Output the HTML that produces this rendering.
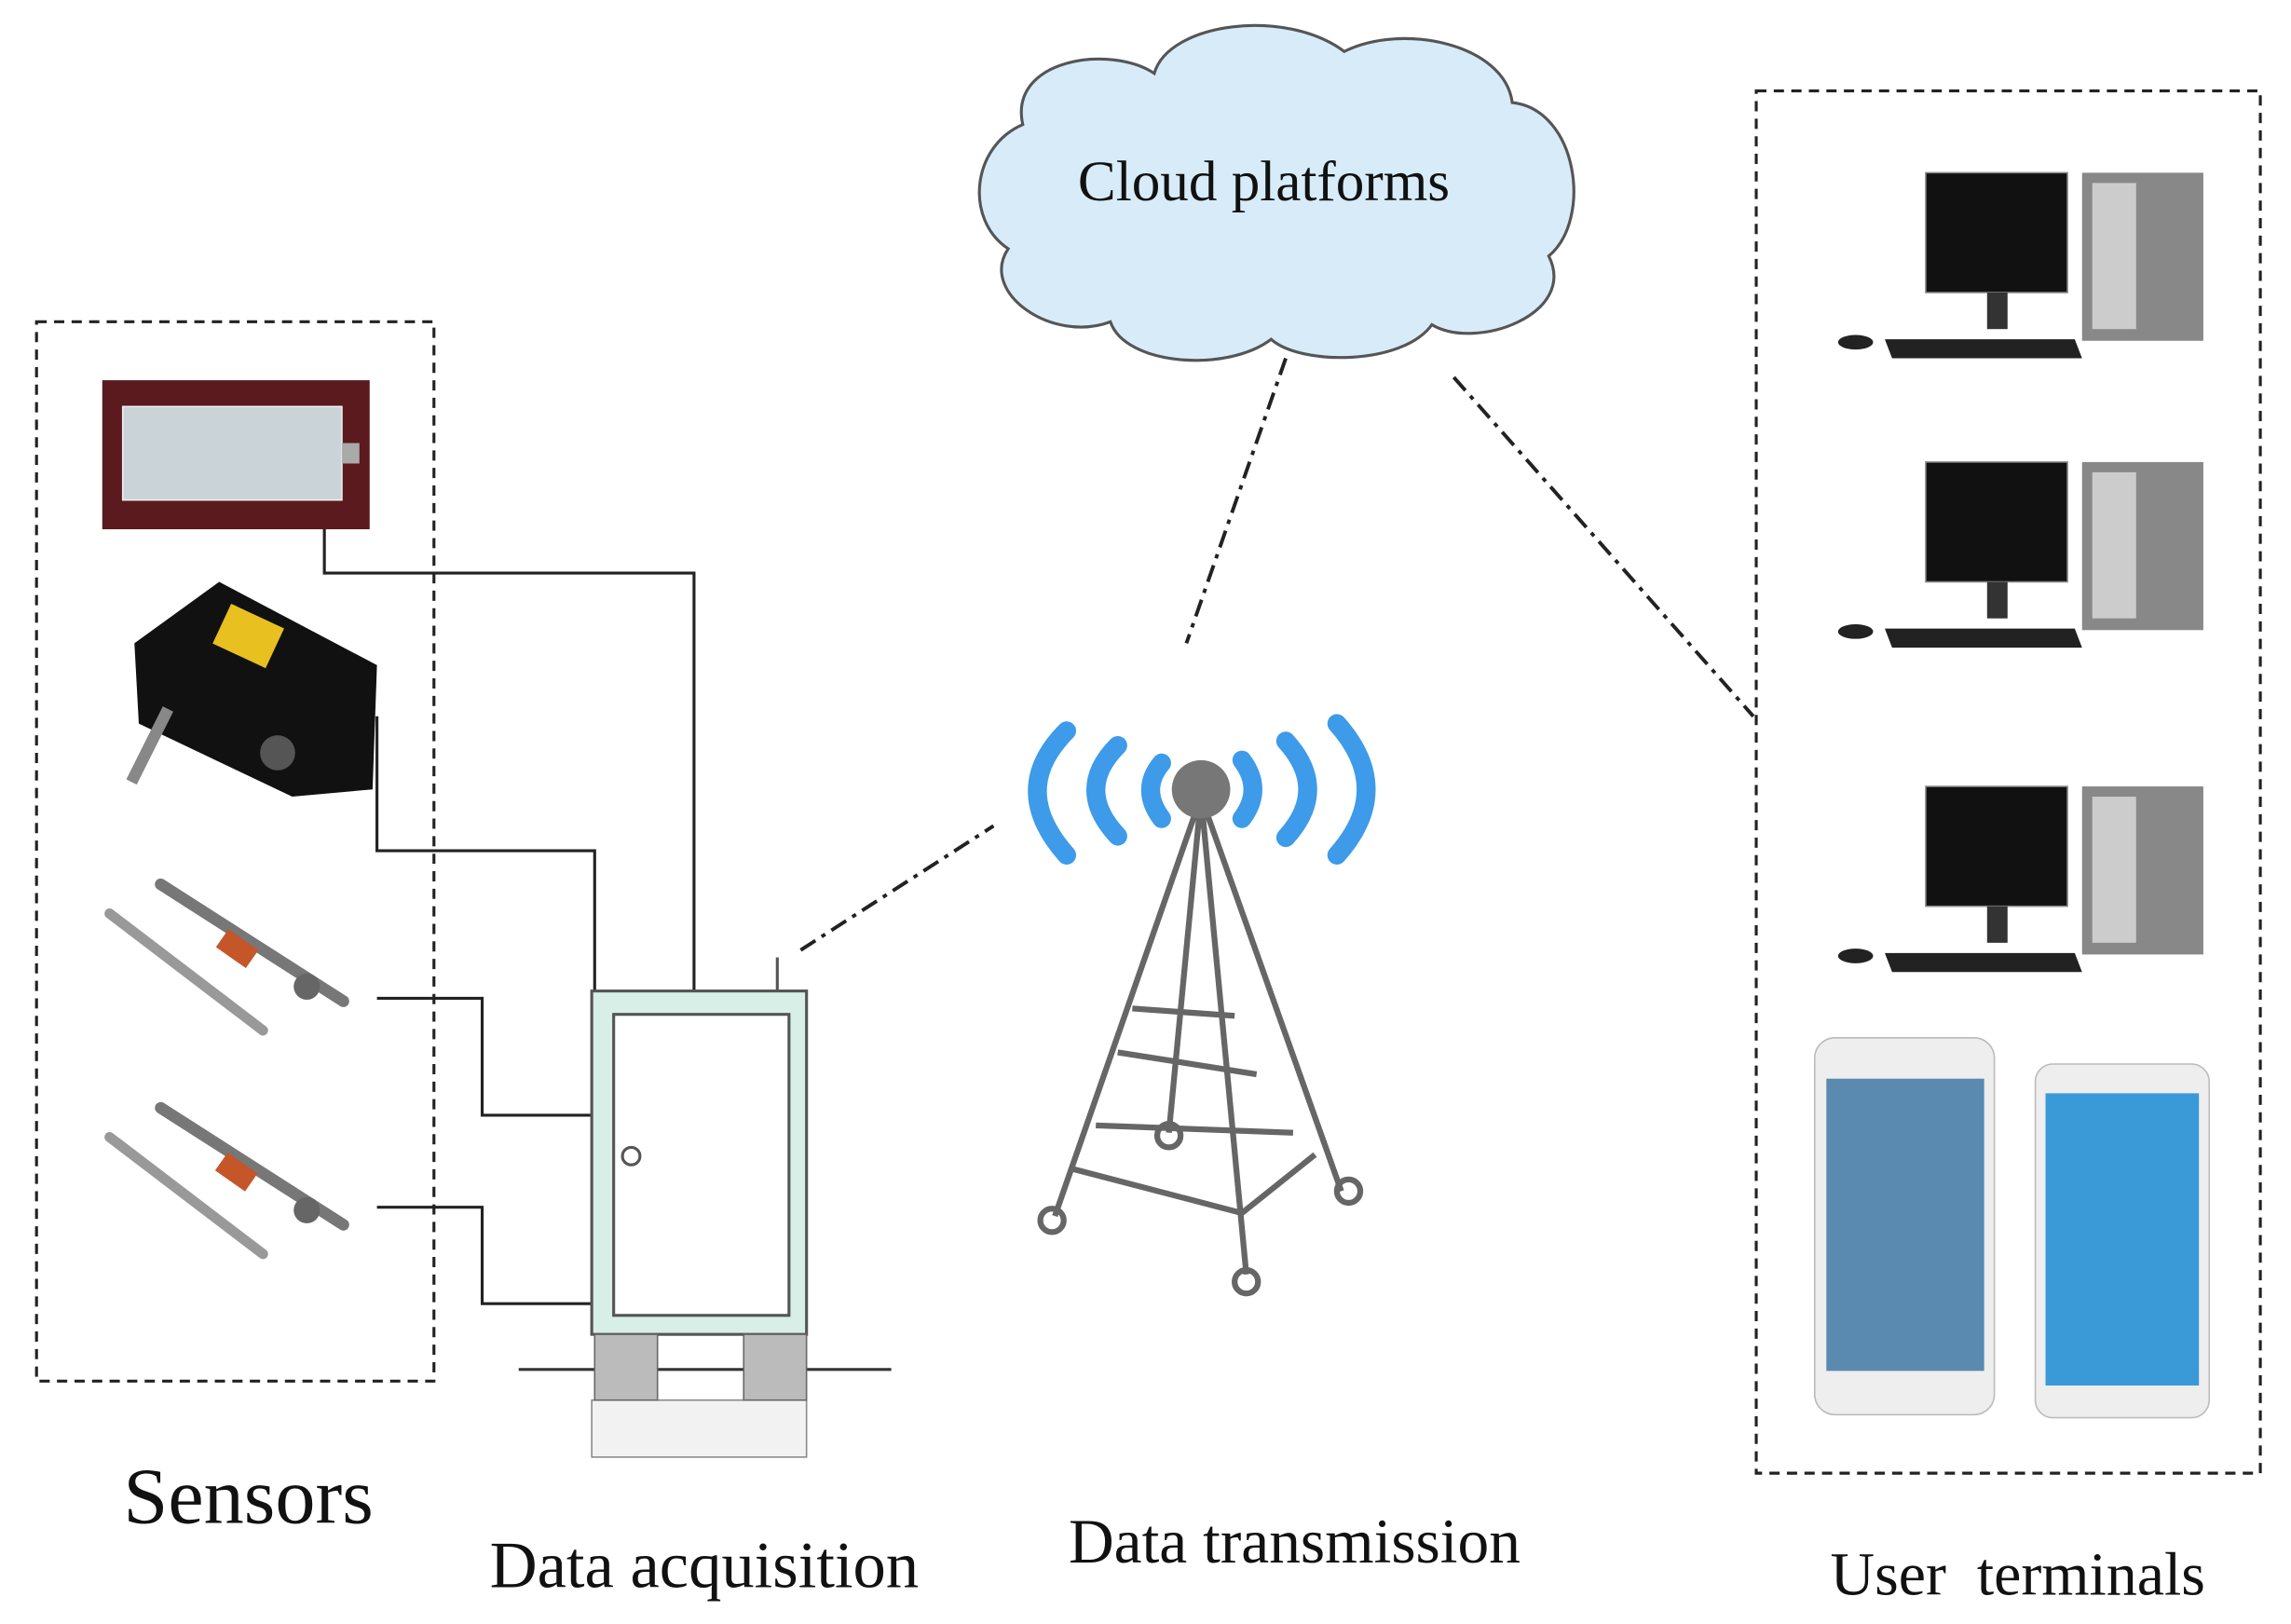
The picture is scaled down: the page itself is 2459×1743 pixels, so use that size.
<!DOCTYPE html>
<html><head><meta charset="utf-8"><style>html,body{margin:0;padding:0;background:#fff}svg{display:block}</style></head>
<body>
<svg width="2459" height="1743" viewBox="0 0 1568 1111" xmlns="http://www.w3.org/2000/svg" font-family="Liberation Serif, serif">
<rect width="1568" height="1111" fill="#fff"/>
<rect x="25" y="220" width="272" height="725" fill="none" stroke="#222" stroke-width="2" stroke-dasharray="7,5"/>
<rect x="1202" y="62" width="345" height="946" fill="none" stroke="#222" stroke-width="2" stroke-dasharray="7,5"/>
<path d="M700,85 C690,40 760,30 790,50 C800,15 880,5 920,35 C960,15 1030,30 1035,70 C1080,75 1090,150 1060,175 C1080,215 1010,240 980,222 C960,250 890,250 870,232 C840,255 770,250 760,220 C720,235 670,200 690,170 C660,150 665,100 700,85 Z" fill="#d7ecf8" stroke="#555" stroke-width="2"/>
<text x="865" y="137" font-size="39" text-anchor="middle" fill="#111">Cloud platforms</text>
<g stroke="#222" stroke-width="2" fill="none">
<polyline points="222,362 222,392 475,392 475,678"/>
<polyline points="258,490 258,582 407,582 407,678"/>
<polyline points="258,683 330,683 330,763 405,763"/>
<polyline points="258,826 330,826 330,892 405,892"/>
</g>
<g stroke="#222" stroke-width="2.5" fill="none" stroke-dasharray="12,5,3,5">
<line x1="548" y1="650" x2="680" y2="565"/>
<line x1="880" y1="245" x2="812" y2="440"/>
<line x1="995" y1="258" x2="1200" y2="490"/>
</g>
<rect x="70" y="260" width="183" height="102" fill="#5a1a1e"/>
<rect x="84" y="278" width="150" height="64" fill="#c9d3d8" stroke="#eee"/>
<rect x="234" y="303" width="12" height="14" fill="#aaa"/>
<path d="M92,440 L150,398 L258,455 L255,540 L200,545 L95,495 Z" fill="#111"/>
<rect x="150" y="420" width="40" height="30" fill="#e8c020" transform="rotate(25 170 435)"/>
<line x1="115" y1="485" x2="90" y2="535" stroke="#888" stroke-width="8"/>
<circle cx="190" cy="515" r="12" fill="#555"/>
<g stroke-linecap="round">
<line x1="75" y1="625" x2="180" y2="705" stroke="#999" stroke-width="7"/>
<line x1="110" y1="605" x2="235" y2="685" stroke="#777" stroke-width="8"/>
<rect x="150" y="640" width="25" height="15" fill="#c4562a" transform="rotate(35 160 648)"/>
<circle cx="210" cy="675" r="9" fill="#666"/>
<line x1="75" y1="778" x2="180" y2="858" stroke="#999" stroke-width="7"/>
<line x1="110" y1="758" x2="235" y2="838" stroke="#777" stroke-width="8"/>
<rect x="150" y="793" width="25" height="15" fill="#c4562a" transform="rotate(35 160 800)"/>
<circle cx="210" cy="828" r="9" fill="#666"/>
</g>
<line x1="532" y1="655" x2="532" y2="678" stroke="#555" stroke-width="2"/>
<rect x="405" y="678" width="147" height="235" fill="#d8efe8" stroke="#555" stroke-width="2"/>
<rect x="420" y="694" width="120" height="206" fill="#fff" stroke="#555" stroke-width="2"/>
<circle cx="432" cy="791" r="6" fill="none" stroke="#555" stroke-width="2"/>
<line x1="355" y1="937" x2="610" y2="937" stroke="#333" stroke-width="2"/>
<rect x="405" y="958" width="147" height="39" fill="#f2f2f2" stroke="#888"/>
<rect x="407" y="913" width="43" height="45" fill="#bbb" stroke="#666"/>
<rect x="509" y="913" width="43" height="45" fill="#bbb" stroke="#666"/>
<g fill="none" stroke="#3d9be9" stroke-width="13" stroke-linecap="round">
<path d="M730,500 Q690,540 730,585"/>
<path d="M765,510 Q735,540 765,572"/>
<path d="M795,522 Q780,540 795,560"/>
<path d="M850,520 Q865,540 850,560"/>
<path d="M880,507 Q910,540 880,573"/>
<path d="M915,495 Q955,540 915,585"/>
</g>
<g fill="none" stroke="#666" stroke-width="4">
<line x1="822" y1="545" x2="722" y2="832"/>
<line x1="822" y1="545" x2="918" y2="815"/>
<line x1="822" y1="545" x2="853" y2="872"/>
<line x1="822" y1="545" x2="800" y2="775"/>
<line x1="775" y1="690" x2="845" y2="695"/>
<line x1="765" y1="720" x2="860" y2="735"/>
<line x1="750" y1="770" x2="885" y2="775"/>
<line x1="735" y1="800" x2="850" y2="830"/>
<line x1="850" y1="830" x2="900" y2="790"/>
<circle cx="720" cy="835" r="8"/><circle cx="923" cy="815" r="8"/><circle cx="853" cy="877" r="8"/><circle cx="800" cy="777" r="8"/>
</g>
<circle cx="822" cy="540" r="20" fill="#777"/>
<g id="pc">
<rect x="1318" y="118" width="97" height="82" fill="#111" stroke="#888"/>
<rect x="1360" y="200" width="14" height="25" fill="#333"/>
<rect x="1425" y="118" width="83" height="115" fill="#888"/>
<rect x="1432" y="125" width="30" height="100" fill="#ccc"/>
<path d="M1290,232 L1420,232 L1425,245 L1295,245 Z" fill="#222"/>
<ellipse cx="1270" cy="234" rx="12" ry="5" fill="#222"/>
</g>
<use href="#pc" y="198"/>
<use href="#pc" y="420"/>
<rect x="1242" y="710" width="123" height="258" rx="14" fill="#eee" stroke="#bbb"/>
<rect x="1250" y="738" width="108" height="200" fill="#5a8ab0"/>
<rect x="1393" y="728" width="119" height="242" rx="12" fill="#eee" stroke="#bbb"/>
<rect x="1400" y="748" width="105" height="200" fill="#3a9ad8"/>
<text x="170" y="1042" font-size="55" text-anchor="middle" fill="#111">Sensors</text>
<text x="482" y="1086" font-size="45" text-anchor="middle" fill="#111">Data acquisition</text>
<text x="886" y="1069" font-size="43" text-anchor="middle" fill="#111">Data transmission</text>
<text x="1381" y="1091" font-size="42" text-anchor="middle" fill="#111" xml:space="preserve">User  terminals</text>
</svg>
</body></html>
